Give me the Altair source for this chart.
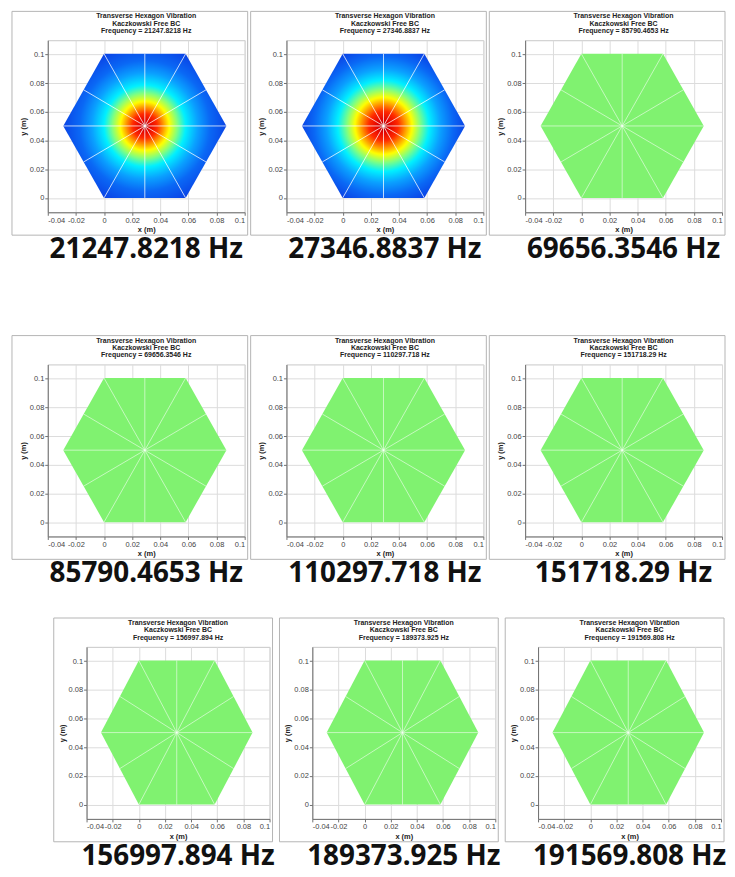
import altair as alt
import pandas as pd

# ---- data ----
title_freqs = ["21247.8218", "27346.8837", "85790.4653",
               "69656.3546", "110297.718", "151718.29",
               "156997.894", "189373.925", "191569.808"]
big_labels = ["21247.8218 Hz", "27346.8837 Hz", "69656.3546 Hz",
              "85790.4653 Hz", "110297.718 Hz", "151718.29 Hz",
              "156997.894 Hz", "189373.925 Hz", "191569.808 Hz"]
fill_kind = ["jet1", "jet2", "green",
             "green", "green", "green",
             "green", "green", "green"]
title_line1 = "Transverse Hexagon Vibration"
title_line2 = "Kaczkowski Free BC"

# hexagon outline (lower / upper boundary at each x)
hex_x = [-0.029, 0.0, 0.058, 0.087]
hex_lo = [0.0502, 0.0, 0.0, 0.0502]
hex_hi = [0.0502, 0.1005, 0.1005, 0.0502]

# mesh rays: centre -> vertices and edge midpoints
center_x = 0.029
center_y = 0.0502
ray_x = [0.087, 0.058, 0.0, -0.029, 0.0, 0.058,
         0.0725, 0.029, -0.0145, -0.0145, 0.029, 0.0725]
ray_y = [0.0502, 0.1005, 0.1005, 0.0502, 0.0, 0.0,
         0.0754, 0.1005, 0.0754, 0.0251, 0.0, 0.0251]

x_ticks = [-0.04, -0.02, 0, 0.02, 0.04, 0.06, 0.08, 0.1]
y_ticks = [0, 0.02, 0.04, 0.06, 0.08, 0.1]

# jet-like radial colour profiles (offset from centre -> colour)
jet1_offsets = [0.0, 0.06, 0.15, 0.22, 0.30, 0.40, 0.50, 0.65, 0.80, 1.0]
jet1_colors = ["#a00000", "#e00000", "#ff2a00", "#ff8c00", "#ffff00",
               "#80ff80", "#00f0ff", "#0aa0ff", "#0a68f5", "#0a44e6"]
jet2_offsets = [0.0, 0.07, 0.18, 0.26, 0.35, 0.45, 0.56, 0.70, 0.85, 1.0]
jet2_colors = ["#a00000", "#e00000", "#ff2a00", "#ff8c00", "#ffff00",
               "#80ff80", "#00f0ff", "#0aa0ff", "#0a68f5", "#0a44e6"]
green_color = "#80f270"


def fill_for(kind):
    if kind == "green":
        return green_color
    offs, cols = (jet1_offsets, jet1_colors) if kind == "jet1" else (jet2_offsets, jet2_colors)
    return alt.RadialGradient(
        gradient="radial",
        stops=[alt.GradientStop(offset=o, color=c) for o, c in zip(offs, cols)],
        x1=0.5, y1=0.5, r1=0, x2=0.5, y2=0.5, r2=0.5,
    )


H = 173
LABEL_EXPR = "replace(format(datum.value, '~g'), '\u2212', '-')"


def panel(i, w, frame_left, extra_bottom=0):
    xscale = alt.Scale(domain=[-0.04, 0.1], nice=False, zero=False)
    yscale = alt.Scale(domain=[-0.01, 0.11], nice=False, zero=False)
    xaxis = alt.Axis(values=x_ticks, labelExpr=LABEL_EXPR, title="x (m)")
    yaxis = alt.Axis(values=y_ticks, labelExpr=LABEL_EXPR, title="y (m)")

    hexdf = pd.DataFrame({"x": hex_x, "lo": hex_lo, "hi": hex_hi})
    area = alt.Chart(hexdf).mark_area(
        color=fill_for(fill_kind[i]), interpolate="linear", opacity=1
    ).encode(
        x=alt.X("x:Q", scale=xscale, axis=xaxis),
        y=alt.Y("lo:Q", scale=yscale, axis=yaxis),
        y2="hi:Q",
    )

    raydf = pd.DataFrame({"cx": [center_x] * len(ray_x), "cy": [center_y] * len(ray_y),
                          "ex": ray_x, "ey": ray_y})
    op = 0.75 if fill_kind[i] != "green" else 0.55
    rays = alt.Chart(raydf).mark_rule(color="white", opacity=op, strokeWidth=1).encode(
        x=alt.X("cx:Q", scale=xscale, axis=xaxis),
        y=alt.Y("cy:Q", scale=yscale, axis=yaxis),
        x2="ex:Q",
        y2="ey:Q",
    )

    one = pd.DataFrame({"t": [big_labels[i]]})
    frame = alt.Chart(one).mark_rect(
        filled=False, stroke="#b4b4b4", strokeWidth=1
    ).encode(
        x=alt.value(-frame_left), x2=alt.value(w + 3),
        y=alt.value(-29), y2=alt.value(H + 23),
    )
    layers = [frame, area, rays]
    title_lines = [title_line1, title_line2, "Frequency = " + title_freqs[i] + " Hz"]
    for k, line in enumerate(title_lines):
        layers.append(
            alt.Chart(one).mark_text(
                font="Liberation Sans", fontWeight="bold", fontSize=7, color="#222222",
                align="center", baseline="middle"
            ).encode(
                text=alt.value(line),
                x=alt.value(w / 2), y=alt.value(-24 + 7.5 * k),
            )
        )
    layers.append(
        alt.Chart(one).mark_text(
            font="Noto Sans", fontWeight="bold", fontSize=28, color="#111111",
            align="center", baseline="middle"
        ).encode(
            text="t:N", x=alt.value(w / 2), y=alt.value(H + 38)
        )
    )
    # invisible layout helper (extra white space below the panel)
    if extra_bottom:
        layers.append(
            alt.Chart(one).mark_rule(opacity=0).encode(
                x=alt.value(0), x2=alt.value(1), y=alt.value(H + 52 + extra_bottom)
            )
        )

    return alt.layer(*layers).properties(
        width=w, height=H,
        view=alt.ViewBackground(stroke="#c8c8c8"),
    )


def spacer(w, h):
    return alt.Chart(pd.DataFrame({"a": [0]})).mark_rule(opacity=0).encode(
        x=alt.value(0), y=alt.value(0), y2=alt.value(1)
    ).properties(width=w, height=h, view=alt.ViewBackground(stroke="transparent"))


row1 = alt.concat(panel(0, 198, 36, extra_bottom=42), panel(1, 198, 36),
                  panel(2, 198, 36), columns=3, spacing=1)
row2 = alt.concat(panel(3, 198, 36), panel(4, 198, 36), panel(5, 198, 36),
                  columns=3, spacing=1)
row3 = alt.concat(spacer(1, 10), panel(6, 184, 33), panel(7, 184, 33), panel(8, 184, 33),
                  columns=4, spacing=3)

chart = alt.concat(row1, row2, row3, columns=1, spacing=28).configure_view(
    stroke="transparent"
).configure_axis(
    labelFont="Liberation Sans", titleFont="Liberation Sans",
    labelFontSize=7.5, titleFontSize=7.5, titleFontWeight="bold",
    labelColor="#444444", titleColor="#222222",
    domainColor="#707070", tickColor="#707070", tickSize=3,
    gridColor="#dcdcdc", labelPadding=1, titlePadding=2,
).properties(
    background="white",
    padding={"left": 3, "top": 0, "right": 0, "bottom": 0},
)

chart.save("out.html", embed_options={"renderer": "svg", "actions": False})
